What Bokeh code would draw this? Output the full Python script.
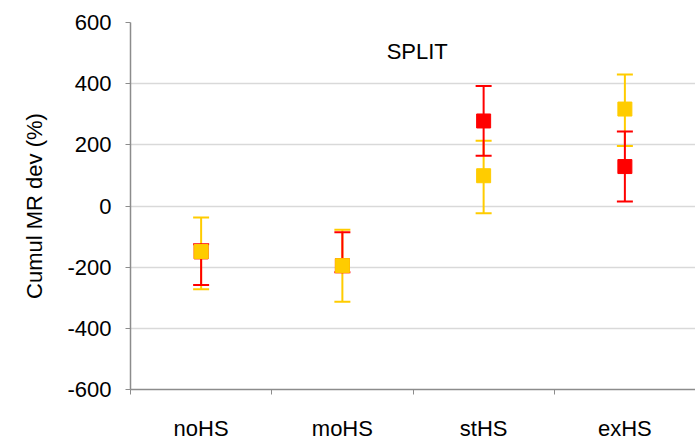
from bokeh.plotting import figure
from bokeh.models import (ColumnDataSource, FixedTicker, Whisker, TeeHead, Label, Range1d, Title)
from bokeh.embed import file_html
from bokeh.resources import INLINE

categories = ["noHS", "moHS", "stHS", "exHS"]
red_mean = [-150, -195, 278, 129]
red_upper = [-125, -86, 392, 244]
red_lower = [-258, -217, 164, 15]
yellow_mean = [-149, -195, 99, 317]
yellow_upper = [-38, -78, 213, 430]
yellow_lower = [-272, -313, -24, 196]
y_ticks = [-600, -400, -200, 0, 200, 400, 600]

RED = "#FF0000"
YEL = "#FFCC00"
FONT = "Liberation Sans"

xpos = [i + 0.5 for i in range(len(categories))]

p = figure(width=695, height=443, output_backend="svg", toolbar_location=None,
           x_range=Range1d(0, len(categories)), y_range=Range1d(-600, 600),
           min_border_left=130, min_border_right=0, min_border_top=22,
           min_border_bottom=53)
p.outline_line_color = None
p.background_fill_color = "white"
p.border_fill_color = "white"

red_src = ColumnDataSource(dict(x=xpos, y=red_mean, up=red_upper, lo=red_lower))
yel_src = ColumnDataSource(dict(x=xpos, y=yellow_mean, up=yellow_upper, lo=yellow_lower))

# markers
p.scatter("x", "y", source=red_src, marker="square", size=14, fill_color=RED, line_color=RED)
p.scatter("x", "y", source=yel_src, marker="square", size=14, fill_color=YEL, line_color=YEL)

# error bars
for src, col in ((yel_src, YEL), (red_src, RED)):
    w = Whisker(base="x", upper="up", lower="lo", source=src, dimension="height",
                line_color=col, line_width=2,
                upper_head=TeeHead(size=16, line_color=col, line_width=2),
                lower_head=TeeHead(size=16, line_color=col, line_width=2))
    p.add_layout(w)

p.add_layout(Label(x=2.03, y=505, text="SPLIT", text_align="center", text_baseline="middle",
                   text_font=FONT, text_font_size="22px", text_color="black"))

# y axis title as a left title (shifted upward like the reference)
p.add_layout(Title(text="Cumul MR dev (%)", align="center", offset=31, text_font=FONT,
                   text_font_size="22px", text_font_style="normal", text_color="black",
                   standoff=36), "left")

# axes
p.xgrid.grid_line_color = None
p.ygrid.grid_line_color = "#D9D9D9"
p.ygrid.grid_line_width = 1.5
p.yaxis.ticker = FixedTicker(ticks=y_ticks)
p.yaxis.major_label_overrides = {t: str(t) for t in y_ticks}
p.yaxis.major_label_text_font = FONT
p.yaxis.major_label_text_font_size = "22px"
p.yaxis.major_label_standoff = 14
p.yaxis.minor_tick_line_color = None

p.xaxis.ticker = FixedTicker(ticks=xpos, minor_ticks=list(range(len(categories) + 1)))
p.xaxis.major_label_overrides = {x: c for x, c in zip(xpos, categories)}
p.xaxis.major_tick_line_color = None
p.xaxis.major_tick_out = 0
p.xaxis.minor_tick_out = 5
p.xaxis.minor_tick_in = 0
p.xaxis.major_label_text_font = FONT
p.xaxis.major_label_text_font_size = "22px"
p.xaxis.major_label_standoff = 21

for ax in (p.xaxis[0], p.yaxis[0]):
    ax.axis_line_color = "#8C8C8C"
    ax.axis_line_width = 1.5
    ax.major_label_text_color = "black"
p.yaxis.major_tick_line_color = "#8C8C8C"
p.yaxis.major_tick_out = 5
p.yaxis.major_tick_in = 0
p.xaxis.minor_tick_line_color = "#8C8C8C"

open("out.html", "w").write(file_html(p, INLINE))
